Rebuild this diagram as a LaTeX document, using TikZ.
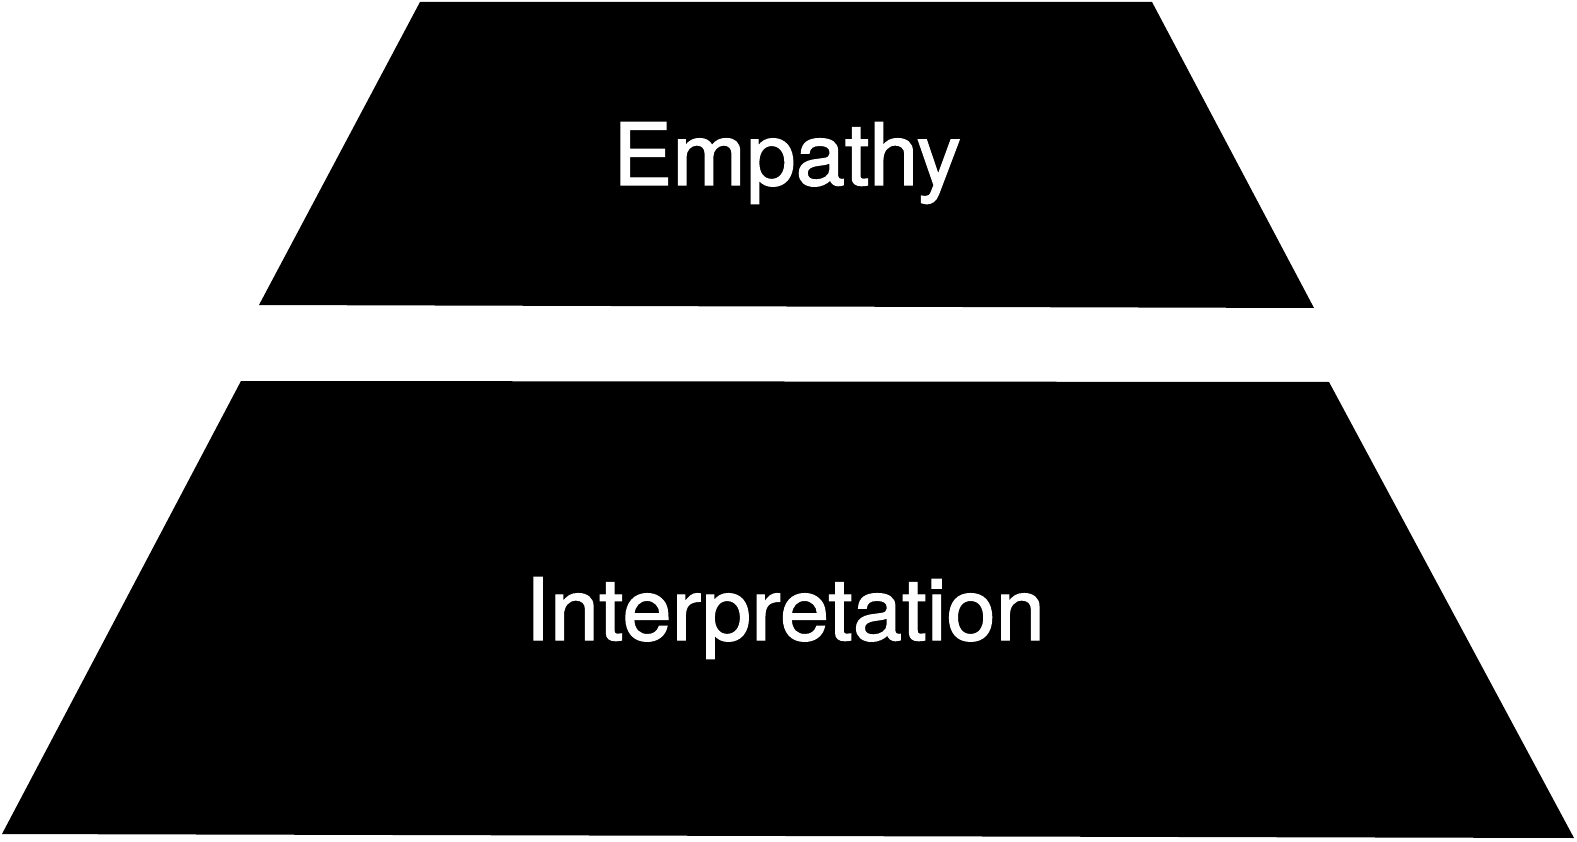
\documentclass[tikz,border=0pt]{standalone}
\usepackage{fontspec}
\setmainfont{TeX Gyre Heros}
\newfontfamily\tierfont[FakeBold=1.6, FakeStretch=1.03]{TeX Gyre Heros}
\usetikzlibrary{positioning}

\begin{document}
\begin{tikzpicture}[
  x=1pt, y=-1pt,
  tier/.style ={fill=black, draw=none},
  label/.style={text=white, inner sep=0pt, anchor=base,
                font=\tierfont\fontsize{86}{100}\selectfont},
]
\useasboundingbox (0,0) rectangle (1577,842);

% ---- upper tier ----
\coordinate (t1) at (420,2);
\coordinate (t2) at (1152,2);
\coordinate (t3) at (1314,308);
\coordinate (t4) at (259,305);
\fill[tier] (t1) -- (t2) -- (t3) -- (t4) -- cycle;

% ---- lower tier ----
\coordinate (b1) at (241,381);
\coordinate (b2) at (1329,382);
\coordinate (b3) at (1574,838);
\coordinate (b4) at (2,834);
\fill[tier] (b1) -- (b2) -- (b3) -- (b4) -- cycle;

% ---- labels ----
\node[label] (emp) at (787,185) {Empathy};
\node[label] (int) at (785,640) {Interpretation};

\end{tikzpicture}
\end{document}
